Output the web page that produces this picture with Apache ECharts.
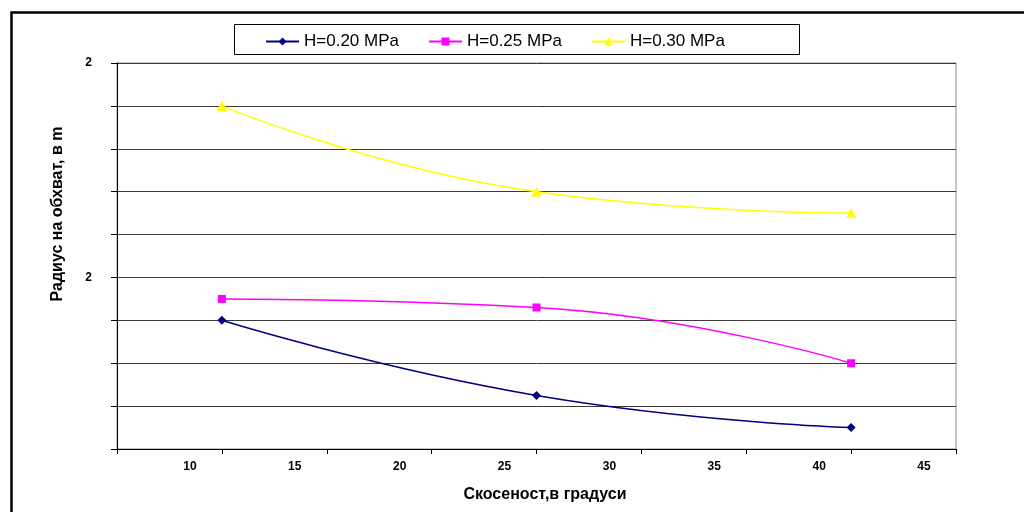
<!DOCTYPE html>
<html>
<head>
<meta charset="utf-8">
<script src="https://cdn.jsdelivr.net/npm/echarts@6/dist/echarts.min.js"></script>
<style>html,body{margin:0;padding:0;background:#fff;}#c{width:1024px;height:512px;}</style>
</head>
<body>
<div id="c"></div>
<script>
const xValues = [10, 25, 40];
const seriesNames = ['H=0.20 MPa', 'H=0.25 MPa', 'H=0.30 MPa'];
const h020 = [1.80, 1.625, 1.55];
const h025 = [1.85, 1.83, 1.70];
const h030 = [2.30, 2.10, 2.05];
const xTickLabels = [10, 15, 20, 25, 30, 35, 40, 45];
const yLabelledTicks = [1.9, 2.4];
const xTitle = 'Скосеност,в градуси';
const yTitle = 'Радиус на обхват, в m';

const chart = echarts.init(document.getElementById('c'), null, {renderer: 'canvas'});
const font = 'Arial, "Liberation Sans", sans-serif';
function mk(name, data, color, symbol, size) {
  return {
    name: name, type: 'line', smooth: true,
    data: xValues.map((x, i) => [x, data[i]]),
    symbol: symbol, symbolSize: size,
    lineStyle: {color: color, width: 1.5},
    itemStyle: {color: color},
    emphasis: {disabled: true}
  };
}
chart.setOption({
  animation: false,
  backgroundColor: '#fff',
  grid: {left: 117, right: 68, top: 63, bottom: 63, show: true, borderColor: '#8a8a8a', borderWidth: 1},
  legend: {
    left: 260, top: 28, itemWidth: 33, itemHeight: 10, itemGap: 29,
    textStyle: {fontFamily: font, fontSize: 17, color: '#000'},
    data: seriesNames
  },
  xAxis: {
    type: 'value', min: 5, max: 45, interval: 5,
    axisLine: {show: true, lineStyle: {color: '#000', width: 1}},
    axisTick: {show: true, length: 5, lineStyle: {color: '#000'}},
    splitLine: {show: false},
    axisLabel: {
      margin: 12, fontFamily: font, fontSize: 12, fontWeight: 'bold', color: '#000',
      padding: [0, 64, 0, 0],
      formatter: v => xTickLabels.indexOf(v) >= 0 ? String(v) : ''
    }
  },
  yAxis: {
    type: 'value', min: 1.5, max: 2.4, interval: 0.1,
    axisLine: {show: true, lineStyle: {color: '#000', width: 1}},
    axisTick: {show: true, length: 6, lineStyle: {color: '#000'}},
    splitLine: {show: true, lineStyle: {color: '#3a3a3a', width: 1}},
    axisLabel: {
      margin: 25, fontFamily: font, fontSize: 12, fontWeight: 'bold', color: '#000',
      formatter: v => yLabelledTicks.some(t => Math.abs(t - v) < 1e-6) ? String(Math.round(v)) : ''
    }
  },
  graphic: [
    {type: 'rect', left: 9, top: 10, shape: {width: 1040, height: 540}, style: {fill: 'none', stroke: '#000', lineWidth: 2.5}, silent: true},
    {type: 'rect', left: 232, top: 22, shape: {width: 565, height: 30}, style: {fill: 'none', stroke: '#000', lineWidth: 1}, silent: true, z: -1},
    {type: 'text', x: 545, y: 495, style: {text: xTitle, font: 'bold 16px ' + font, fill: '#000', textAlign: 'center', textVerticalAlign: 'middle'}},
    {type: 'text', x: 58, y: 214, rotation: Math.PI / 2, style: {text: yTitle, font: 'bold 16px ' + font, fill: '#000', textAlign: 'center', textVerticalAlign: 'middle'}}
  ],
  series: [
    mk(seriesNames[0], h020, '#000080', 'diamond', 9),
    mk(seriesNames[1], h025, '#FF00FF', 'rect', 8),
    mk(seriesNames[2], h030, '#FFFF00', 'triangle', 10)
  ]
});
</script>
</body>
</html>
